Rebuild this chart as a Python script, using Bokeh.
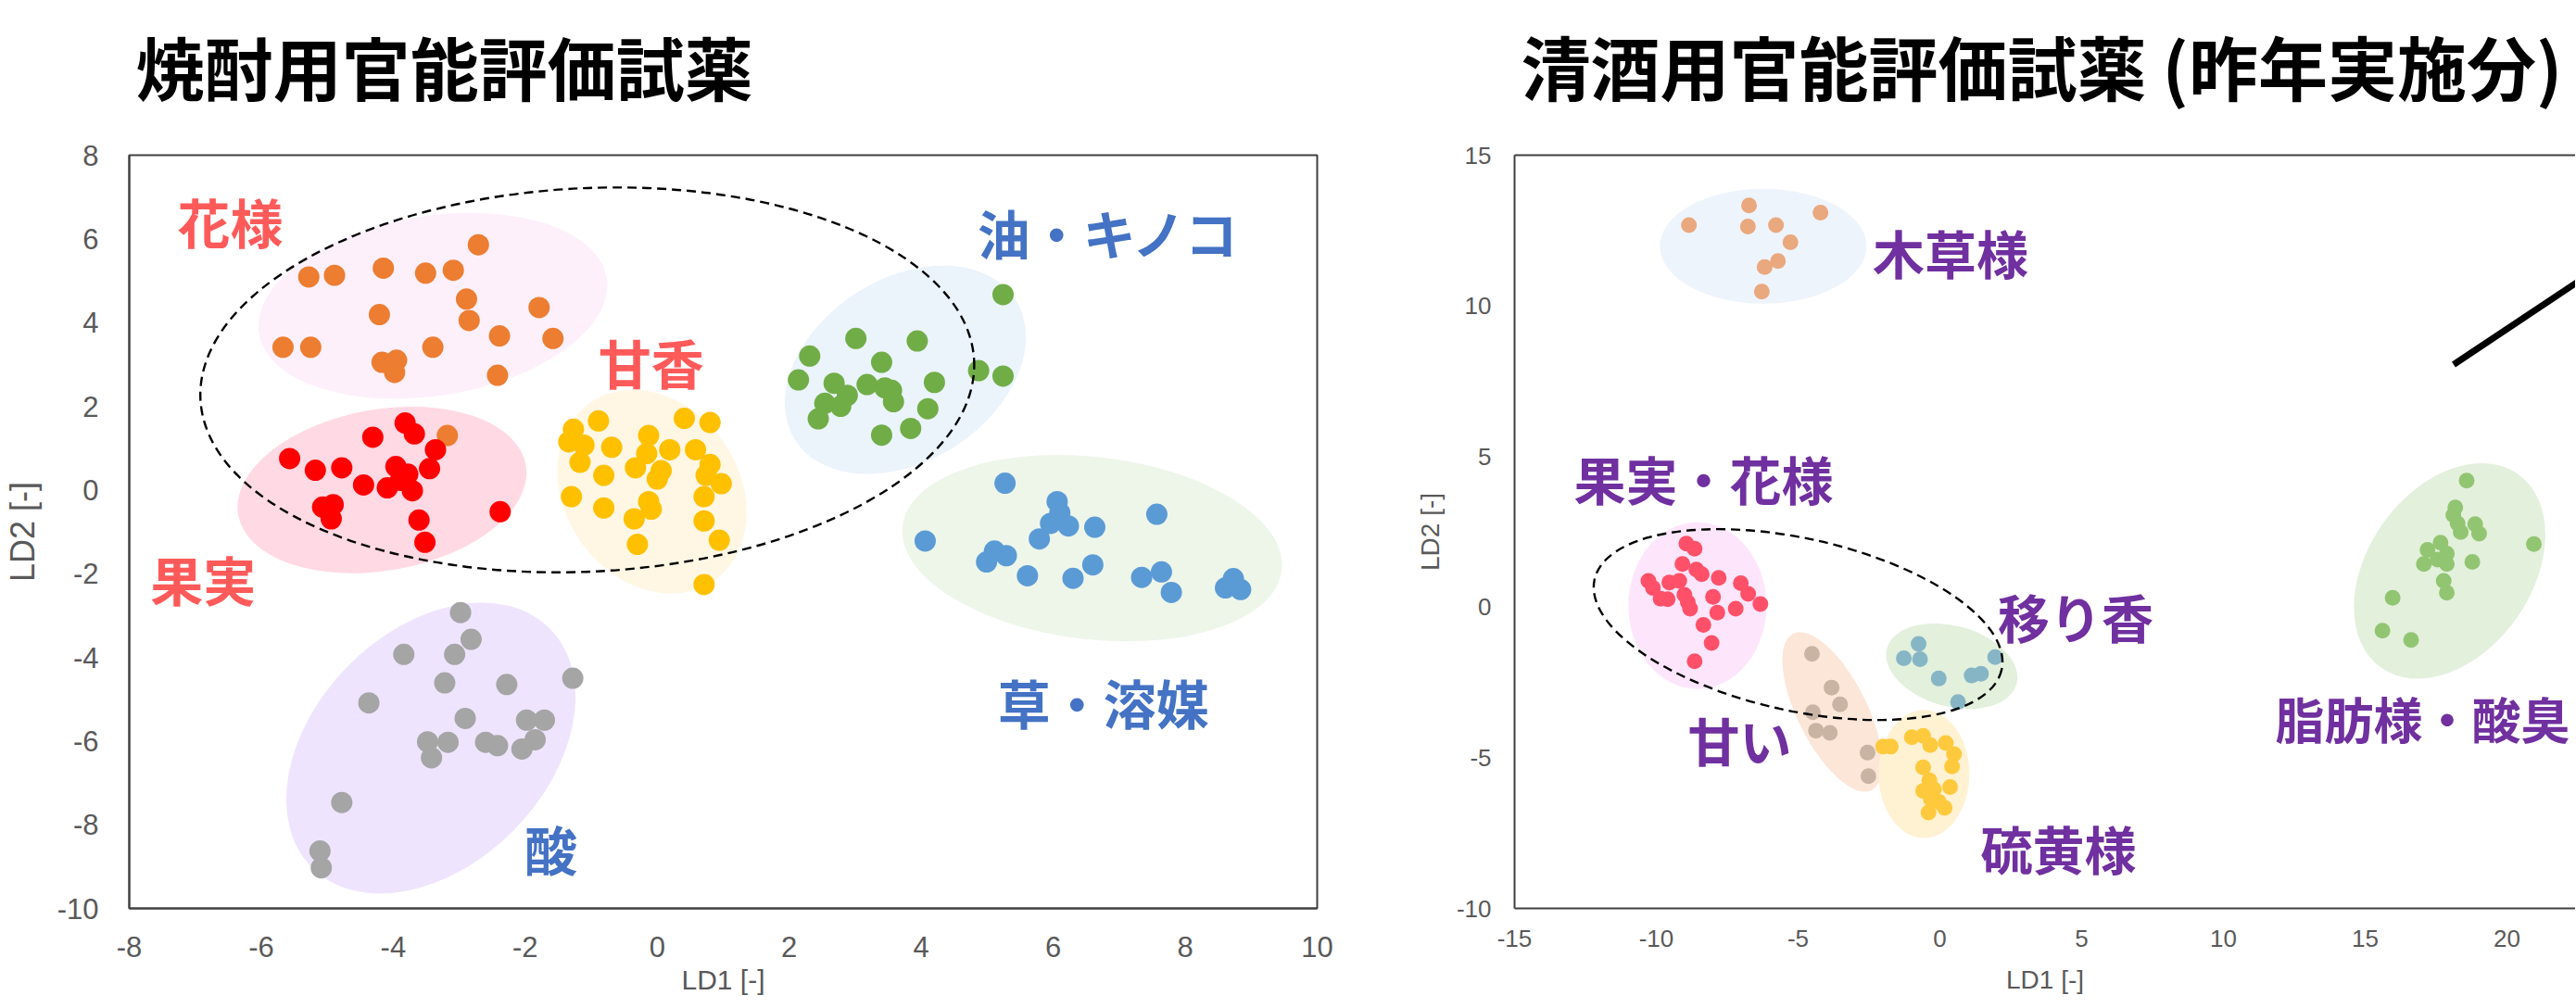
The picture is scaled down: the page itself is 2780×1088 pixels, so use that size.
import math
from bokeh.plotting import figure
from bokeh.layouts import row, column
from bokeh.models import LinearAxis, FixedTicker, Range1d
from bokeh.core.properties import value
from bokeh.embed import file_html
from bokeh.resources import INLINE

# ---------------- left chart data (焼酎用) ----------------
left_title = ["焼酎用官能評価試薬"]
left_xticks = [-8, -6, -4, -2, 0, 2, 4, 6, 8, 10]
left_yticks = [-10, -8, -6, -4, -2, 0, 2, 4, 6, 8]

hana_x = [-2.71, -5.28, -4.89, -4.15, -3.51, -3.09, -2.89, -4.21, -1.79, -2.85,
          -5.67, -5.25, -3.40, -2.39, -1.58, -4.17, -3.95, -3.98, -2.42, -3.18]
hana_y = [5.86, 5.09, 5.13, 5.30, 5.18, 5.25, 4.56, 4.19, 4.36, 4.05,
          3.41, 3.41, 3.41, 3.68, 3.62, 3.05, 3.10, 2.81, 2.74, 1.30]

kajitsu_x = [-5.57, -5.18, -4.78, -4.31, -3.82, -3.68, -3.36, -3.45, -3.96, -3.78,
             -4.45, -4.09, -3.89, -3.71, -5.07, -4.91, -4.94, -3.61, -2.38, -3.52]
kajitsu_y = [0.75, 0.47, 0.53, 1.26, 1.60, 1.34, 0.96, 0.51, 0.56, 0.38,
             0.12, 0.05, 0.23, -0.02, -0.41, -0.35, -0.69, -0.72, -0.52, -1.25]

amaka_x = [-0.89, -1.27, 0.41, 0.80, -0.13, -1.34, -1.11, -0.69, 0.19, 0.58,
           -0.16, -1.17, -0.81, -0.33, 0.06, 0.00, 0.80, 0.74, 0.97, -1.30,
           0.71, -0.81, -0.13, -0.09, -0.35, 0.71, -0.30, 0.94, 0.71]
amaka_y = [1.65, 1.45, 1.71, 1.61, 1.30, 1.15, 1.07, 1.02, 0.96, 0.96,
           0.87, 0.66, 0.35, 0.53, 0.46, 0.26, 0.61, 0.35, 0.15, -0.16,
           -0.16, -0.43, -0.28, -0.46, -0.69, -0.74, -1.30, -1.20, -2.26]

abura_x = [5.24, 3.01, 3.94, 2.31, 3.40, 2.14, 2.68, 3.18, 4.20, 4.87, 5.24,
           3.55, 2.88, 2.54, 2.78, 3.58, 4.10, 2.44, 3.84, 3.40, 3.45]
abura_y = [4.67, 3.62, 3.56, 3.20, 3.05, 2.63, 2.55, 2.52, 2.57, 2.85, 2.72,
           2.38, 2.26, 2.07, 2.00, 2.11, 1.94, 1.70, 1.47, 1.31, 2.44]

kusa_x = [5.27, 6.06, 7.57, 6.63, 6.23, 5.96, 5.79, 4.06, 5.11, 5.29, 4.99,
          6.60, 5.61, 6.30, 7.34, 7.64, 7.79, 8.73, 8.84, 8.61, 6.10]
kusa_y = [0.16, -0.28, -0.58, -0.89, -0.86, -0.80, -1.17, -1.22, -1.46, -1.57, -1.72,
          -1.79, -2.05, -2.11, -2.09, -1.96, -2.45, -2.12, -2.38, -2.34, -0.55]

san_x = [-2.98, -2.82, -3.84, -3.07, -3.22, -2.28, -1.28, -4.37, -2.91, -1.98, -1.71,
         -3.48, -3.17, -3.42, -2.60, -2.42, -1.85, -2.05, -4.78, -5.11, -5.09]
san_y = [-2.93, -3.57, -3.93, -3.93, -4.61, -4.65, -4.50, -5.09, -5.46, -5.50, -5.50,
         -6.02, -6.03, -6.40, -6.03, -6.11, -5.97, -6.19, -7.47, -8.63, -9.03]

left_labels = ["花様", "果実", "甘香", "油・キノコ", "草・溶媒", "酸"]
left_label_x = [-6.47, -6.88, -0.09, 6.85, 6.76, -1.61]
left_label_y = [6.45, -2.11, 3.08, 6.17, -5.05, -8.56]

# shaded group ellipses (centre in data units, size in px, angle in degrees)
left_ell_x = [-3.40, -4.17, -0.08, 3.76, 6.59, -3.43]
left_ell_y = [4.40, 0.00, -0.04, 2.87, -1.39, -6.17]
left_ell_w = [380, 315, 234, 282, 412, 364]
left_ell_h = [194, 174, 188, 197, 197, 252]
left_ell_deg = [9, 9.8, -55.1, 32.6, -6.6, 45.5]
left_dash = dict(x=-1.06, y=2.63, w=836, h=414, deg=2.9)

# ---------------- right chart data (清酒用) ----------------
right_title = ["清酒用官能評価試薬 (昨年実施分)"]
right_xticks = [-15, -10, -5, 0, 5, 10, 15, 20]
right_yticks = [-10, -5, 0, 5, 10, 15]

mokuso_x = [-8.85, -6.73, -4.21, -6.77, -5.78, -5.27, -5.71, -6.18, -6.28]
mokuso_y = [12.68, 13.33, 13.09, 12.63, 12.68, 12.11, 11.49, 11.29, 10.47]

kahana_x = [-8.94, -8.65, -9.08, -8.59, -8.40, -7.80, -10.28, -9.54, -9.19, -7.02,
            -10.12, -9.85, -9.60, -9.01, -8.00, -6.76, -6.33, -8.81, -7.85, -7.20,
            -8.34, -8.05, -8.65, -8.89]
kahana_y = [2.11, 1.94, 1.43, 1.25, 1.09, 0.97, 0.87, 0.82, 0.87, 0.79,
            0.64, 0.28, 0.26, 0.41, 0.34, 0.44, 0.10, -0.05, -0.18, -0.05,
            -0.59, -1.19, -1.80, 0.16]

utsuri_x = [-0.75, -1.27, -0.70, -0.04, 1.12, 1.45, 0.64, 1.95]
utsuri_y = [-1.22, -1.70, -1.73, -2.37, -2.27, -2.21, -3.15, -1.66]

amai_x = [-4.51, -3.82, -3.52, -4.48, -4.37, -3.88, -2.55, -2.52]
amai_y = [-1.55, -2.67, -3.23, -3.49, -4.10, -4.17, -4.83, -5.61]

iou_x = [-2.00, -1.73, -0.99, -0.59, -0.34, 0.21, 0.50, 0.43, -0.59, -0.37,
         -0.59, -0.21, 0.36, -0.32, 0.17, -0.40, -0.04]
iou_y = [-4.63, -4.63, -4.32, -4.27, -4.58, -4.51, -4.88, -5.29, -5.32, -5.75,
         -6.10, -6.05, -5.97, -6.36, -6.66, -6.82, -6.46]

shibo_x = [18.58, 18.18, 18.11, 18.26, 18.37, 18.88, 19.02, 20.95, 17.66, 17.20,
           17.88, 17.07, 17.55, 17.88, 18.78, 17.77, 17.88, 15.97, 15.61, 16.62]
shibo_y = [4.20, 3.31, 3.05, 2.78, 2.49, 2.75, 2.44, 2.09, 2.14, 1.90,
           1.78, 1.43, 1.58, 1.43, 1.50, 0.87, 0.48, 0.31, -0.78, -1.09]

right_labels = ["木草様", "果実・花様", "移り香", "甘い", "硫黄様"]
right_label_x = [0.38, -8.33, 4.79, -7.06, 4.18]
right_label_y = [11.81, 4.29, -0.29, -4.37, -7.97]
right_label_edge = ["脂肪様・酸臭"]
right_label_edge_x = [11.83]
right_label_edge_y = [-3.68]

right_ell_x = [-6.23, -8.55, -3.79, 0.42, -0.56, 17.98]
right_ell_y = [11.98, 0.05, -3.48, -1.96, -5.54, 1.20]
right_ell_w = [223, 149, 189, 145, 98, 256]
right_ell_h = [124, 180, 75, 87, 138, 177]
right_ell_deg = [0, 0, -63.4, -15.4, 0, 54.8]
right_dash = dict(x=-5.0, y=-0.58, w=450, h=186, deg=-12.5)

pointer_x = [18.12, 24.0]
pointer_y = [8.05, 11.74]

# ---------------- styling ----------------
FRAME = "#404040"
TICK_COL = "#595959"
JP = "Noto Sans CJK JP"
LAT = "Liberation Sans"
HEAD_H = 148


def style_axes(p, xticks, yticks, font_px, xstand, ystand):
    p.xaxis.ticker = FixedTicker(ticks=xticks)
    p.yaxis.ticker = FixedTicker(ticks=yticks)
    p.xaxis.major_label_overrides = {t: str(t) for t in xticks}
    p.yaxis.major_label_overrides = {t: str(t) for t in yticks}
    for ax in (p.xaxis, p.yaxis):
        ax.major_tick_in = 0
        ax.major_tick_out = 0
        ax.minor_tick_in = 0
        ax.minor_tick_out = 0
        ax.axis_line_color = FRAME
        ax.axis_line_width = 2
        ax.major_label_text_font = LAT
        ax.major_label_text_font_size = font_px
        ax.major_label_text_color = TICK_COL
        ax.axis_label_text_font = LAT
        ax.axis_label_text_font_style = "normal"
        ax.axis_label_text_color = TICK_COL
    p.xaxis.major_label_standoff = xstand
    p.yaxis.major_label_standoff = ystand
    p.xgrid.visible = False
    p.ygrid.visible = False


def header(width, x_range, left, right, title, title_x, size):
    h = figure(width=width, height=HEAD_H, x_range=x_range, y_range=Range1d(0, HEAD_H),
               x_axis_type=None, y_axis_type=None, output_backend="svg",
               toolbar_location=None, min_border_left=left, min_border_right=right,
               min_border_top=0, min_border_bottom=0)
    h.outline_line_color = None
    h.background_fill_color = "white"
    h.border_fill_color = "white"
    h.text(x=[title_x], y=[HEAD_H - 70], text=title, text_color=value("black"),
           text_font=value(JP), text_font_style=value("bold"),
           text_font_size=value(size), text_align=value("left"),
           text_baseline=value("middle"))
    return h


def add_ellipses(p, xs, ys, ws, hs, degs, colors):
    p.ellipse(x=xs, y=ys, width=ws, height=hs,
              angle=[math.radians(d) for d in degs],
              width_units="screen", height_units="screen",
              fill_color=colors, line_color=None)


def add_dash(p, d):
    p.ellipse(x=[d["x"]], y=[d["y"]], width=[d["w"]], height=[d["h"]],
              angle=[math.radians(d["deg"])],
              width_units="screen", height_units="screen",
              fill_color=None, line_color="black", line_width=2.4,
              line_dash="10 6")


# ---------------- left figure ----------------
p1 = figure(width=1500, height=1088 - HEAD_H, x_range=Range1d(-8, 10), y_range=Range1d(-10, 8),
            output_backend="svg", toolbar_location=None,
            min_border_left=137, min_border_right=79,
            min_border_top=165 - HEAD_H, min_border_bottom=108)
p1.outline_line_color = FRAME
p1.outline_line_width = 2
p1.background_fill_color = "white"
p1.border_fill_color = "white"
style_axes(p1, left_xticks, left_yticks, "31px", 30, 33)
p1.xaxis.axis_label = "LD1 [-]"
p1.xaxis.axis_label_text_font_size = "30px"
p1.xaxis.axis_label_standoff = 5
p1.yaxis.axis_label = "LD2 [-]"
p1.yaxis.axis_label_text_font_size = "36px"
p1.yaxis.axis_label_standoff = 14

add_ellipses(p1, left_ell_x, left_ell_y, left_ell_w, left_ell_h, left_ell_deg,
             ["#fdf0fb", "#ffd9e4", "#fff7e4", "#ebf3fb", "#eef6ea", "#efe4fd"])

PT1 = 23
p1.scatter(hana_x, hana_y, size=PT1, fill_color="#ed7d31", line_color=None)
p1.scatter(kajitsu_x, kajitsu_y, size=PT1, fill_color="#ff0000", line_color=None)
p1.scatter(amaka_x, amaka_y, size=PT1, fill_color="#ffc000", line_color=None)
p1.scatter(abura_x, abura_y, size=PT1, fill_color="#70ad47", line_color=None)
p1.scatter(kusa_x, kusa_y, size=PT1, fill_color="#5b9bd5", line_color=None)
p1.scatter(san_x, san_y, size=PT1, fill_color="#a5a5a5", line_color=None)

add_dash(p1, left_dash)

p1.text(x=left_label_x, y=left_label_y, text=left_labels,
        text_color=["#fe5a5a", "#fe5a5a", "#fe5a5a", "#4472c4", "#4472c4", "#4472c4"],
        text_font=value(JP), text_font_style=value("bold"),
        text_font_size=value("57px"), text_align=value("center"),
        text_baseline=value("middle"))

# ---------------- right figure ----------------
p2 = figure(width=1279, height=1088 - HEAD_H, x_range=Range1d(-15, 22.42), y_range=Range1d(-10, 15),
            output_backend="svg", toolbar_location=None,
            min_border_left=134, min_border_right=0,
            min_border_top=167 - HEAD_H, min_border_bottom=103)
p2.outline_line_color = None
p2.background_fill_color = "white"
p2.border_fill_color = "white"
style_axes(p2, right_xticks, right_yticks, "26px", 23, 25)
p2.xaxis.axis_label = "LD1 [-]"
p2.xaxis.axis_label_text_font_size = "28px"
p2.xaxis.axis_label_standoff = 17
p2.yaxis.axis_label = "LD2 [-]"
p2.yaxis.axis_label_text_font_size = "28px"
p2.yaxis.axis_label_standoff = 10

top_axis = LinearAxis(ticker=FixedTicker(ticks=[]), axis_line_color=FRAME, axis_line_width=2,
                      major_tick_in=0, major_tick_out=0, minor_tick_in=0, minor_tick_out=0,
                      major_label_text_font_size="0px", major_label_standoff=0)
p2.add_layout(top_axis, "above")

add_ellipses(p2, right_ell_x, right_ell_y, right_ell_w, right_ell_h, right_ell_deg,
             ["#eef4fb", "#fde6fb", "#fbe6d8", "#e3f0dc", "#fff2d2", "#e3f0dc"])

PT2 = 17
p2.scatter(mokuso_x, mokuso_y, size=PT2, fill_color="#eaa87e", line_color=None)
p2.scatter(kahana_x, kahana_y, size=PT2, fill_color="#ff5069", line_color=None)
p2.scatter(utsuri_x, utsuri_y, size=PT2, fill_color="#86b6c6", line_color=None)
p2.scatter(amai_x, amai_y, size=PT2, fill_color="#c9b4a4", line_color=None)
p2.scatter(iou_x, iou_y, size=PT2, fill_color="#ffc93d", line_color=None)
p2.scatter(shibo_x, shibo_y, size=PT2, fill_color="#92c572", line_color=None)

add_dash(p2, right_dash)
p2.line(pointer_x, pointer_y, line_color="black", line_width=7)

p2.text(x=right_label_x, y=right_label_y, text=right_labels, text_color=value("#7030a0"),
        text_font=value(JP), text_font_style=value("bold"),
        text_font_size=value("56px"), text_align=value("center"),
        text_baseline=value("middle"))
p2.text(x=right_label_edge_x, y=right_label_edge_y, text=right_label_edge,
        text_color=value("#7030a0"), text_font=value(JP), text_font_style=value("bold"),
        text_font_size=value("53px"), text_align=value("left"),
        text_baseline=value("middle"))

# ---------------- title strip (shares the charts' x scales) ----------------
h1 = header(1500, p1.x_range, 137, 79, left_title, -7.87, "74px")
h2 = header(1279, p2.x_range, 134, 0, right_title, -14.77, "75px")

layout = column(row(h1, h2), row(p1, p2))
open("out.html", "w").write(file_html(layout, INLINE))
